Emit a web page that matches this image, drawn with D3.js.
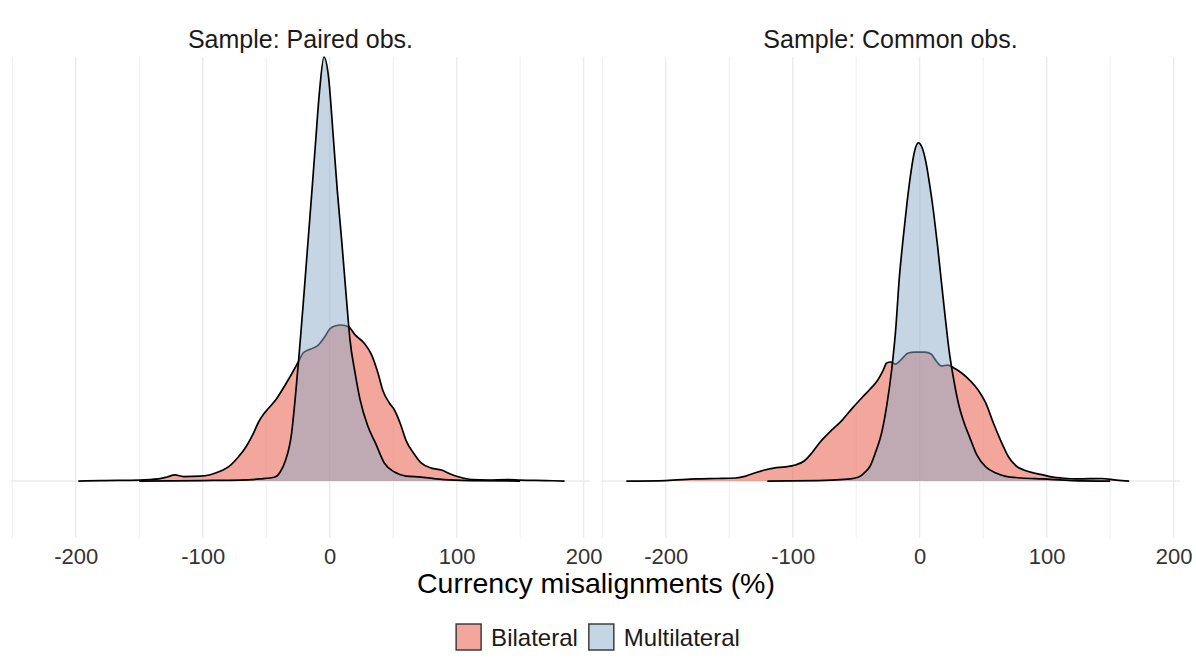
<!DOCTYPE html>
<html>
<head>
<meta charset="utf-8">
<script src="https://cdn.jsdelivr.net/npm/d3@7"></script>
<style>
  html, body { margin: 0; padding: 0; background: #ffffff; }
  svg { display: block; font-family: "Liberation Sans", Arial, Helvetica, sans-serif; }
</style>
</head>
<body>
<svg id="chart" width="1196" height="662"></svg>
<script>
// Facets and series
const panelTitles = ["Sample: Paired obs.", "Sample: Common obs."];
const seriesNames = ["Bilateral", "Multilateral"];
const seriesColors = ["#E8503A", "#8CABC8"];

// x tick labels (misalignment, %) and minor grid positions
const majorTicks = [-200, -100, 0, 100, 200];
const minorTicks = [-250, -150, -50, 50, 150];

// Kernel density estimates (density x 1000) — Paired obs., Bilateral
const pairedBilateralX = [-198, -180, -150, -135, -128, -122, -115, -102, -95, -90,
  -84, -78, -72, -66, -60, -56, -52, -48, -42, -36,
  -30, -24, -21, -15, -9, -4, 0, 4, 9, 15,
  20, 27, 33, 38, 42, 47, 51, 56, 60, 66,
  72, 80, 88, 95, 102, 112, 125, 140, 150, 170, 185];
const pairedBilateralD = [0, 0.03, 0.06, 0.13, 0.25, 0.38, 0.28, 0.31, 0.38, 0.5,
  0.69, 1.0, 1.5, 2.13, 3.0, 3.69, 4.19, 4.56, 5.13, 5.88,
  6.69, 7.56, 8.0, 8.25, 8.5, 9.0, 9.5, 9.69, 9.75, 9.63,
  9.13, 8.63, 7.88, 6.75, 5.63, 4.88, 4.44, 3.5, 2.56, 1.75,
  1.13, 0.81, 0.69, 0.44, 0.25, 0.09, 0.06, 0.09, 0.06, 0.03, 0];

// Paired obs., Multilateral
const pairedMultilateralX = [-150, -100, -70, -55, -43, -39, -35, -30, -27, -24,
  -21, -17, -14, -11, -8, -4.5, -1, 3, 6, 9.4,
  13, 16, 20, 24, 30, 36, 43, 51, 60, 72,
  90, 110, 150];
const pairedMultilateralD = [0, 0.03, 0.06, 0.13, 0.25, 0.56, 1.25, 3.0, 5.31, 8.0,
  10.94, 15.06, 18.13, 21.31, 24.38, 26.5, 25.31, 21.31, 18.13, 15.06,
  11.56, 8.81, 6.75, 5.06, 3.44, 2.38, 1.13, 0.56, 0.31, 0.25,
  0.09, 0.03, 0];

// Common obs., Bilateral
const commonBilateralX = [-231, -200, -176, -160, -145, -137, -130, -122, -115, -106,
  -98, -91, -85, -79, -70, -61, -53, -45, -39, -33,
  -29, -26, -23, -19, -15, -9, -4, 4, 9, 13,
  17, 22, 27, 33, 40, 46, 52, 58, 64, 70,
  76, 82, 90, 97, 105, 112, 125, 143, 155, 165];
const commonBilateralD = [0, 0.03, 0.13, 0.16, 0.19, 0.31, 0.5, 0.69, 0.81, 0.88,
  1.0, 1.25, 1.75, 2.38, 3.13, 3.81, 4.56, 5.25, 5.75, 6.31,
  6.88, 7.38, 7.44, 7.31, 7.56, 8.0, 8.06, 8.06, 7.94, 7.5,
  7.19, 7.25, 7.06, 6.75, 6.25, 5.69, 4.88, 3.63, 2.5, 1.5,
  0.94, 0.69, 0.5, 0.38, 0.25, 0.19, 0.13, 0.16, 0.06, 0];

// Common obs., Multilateral
const commonMultilateralX = [-120, -80, -69, -55, -48, -43, -39, -35, -30, -26,
  -22, -19, -16, -13, -10, -7, -4, -1, 2, 5,
  8, 11, 14, 17, 20, 23, 27, 31, 35, 39,
  45, 52, 60, 67, 80, 97, 120, 150];
const commonMultilateralD = [0, 0.03, 0.06, 0.13, 0.25, 0.56, 0.94, 1.75, 3.0, 4.69,
  7.0, 9.38, 12.75, 15.19, 17.38, 19.25, 20.63, 21.13, 20.81, 19.88,
  18.44, 16.75, 14.75, 12.5, 10.31, 8.25, 6.25, 4.69, 3.63, 2.81,
  1.63, 0.88, 0.5, 0.31, 0.19, 0.13, 0.03, 0];

const panelData = [
  [d3.zip(pairedBilateralX, pairedBilateralD), d3.zip(pairedMultilateralX, pairedMultilateralD)],
  [d3.zip(commonBilateralX, commonBilateralD), d3.zip(commonMultilateralX, commonMultilateralD)]
];

// Layout
const panelLeft = [11, 601];
const panelWidth = 579;
const panelTop = 57;
const panelBottom = 538;
const fillOpacity = 0.5;

const svg = d3.select("#chart");

const x = d3.scaleLinear().domain([-251, 205]).range([0, panelWidth]);
const y = d3.scaleLinear().domain([-3.56, 26.5]).range([panelBottom, panelTop]);

const area = d3.area()
  .x(d => x(d[0]))
  .y0(y(0))
  .y1(d => y(d[1]))
  .curve(d3.curveMonotoneX);
const line = d3.line()
  .x(d => x(d[0]))
  .y(d => y(d[1]))
  .curve(d3.curveMonotoneX);

panelTitles.forEach((title, i) => {
  const g = svg.append("g").attr("transform", `translate(${panelLeft[i]},0)`);

  // grid
  g.selectAll("line.minor").data(minorTicks).join("line")
    .attr("class", "minor")
    .attr("x1", d => x(d)).attr("x2", d => x(d))
    .attr("y1", panelTop).attr("y2", panelBottom)
    .attr("stroke", "#EFEFEF").attr("stroke-width", 1);
  g.selectAll("line.major").data(majorTicks).join("line")
    .attr("class", "major")
    .attr("x1", d => x(d)).attr("x2", d => x(d))
    .attr("y1", panelTop).attr("y2", panelBottom)
    .attr("stroke", "#EBEBEB").attr("stroke-width", 1.4);
  g.append("line")
    .attr("x1", 0).attr("x2", panelWidth)
    .attr("y1", y(0)).attr("y2", y(0))
    .attr("stroke", "#EBEBEB").attr("stroke-width", 1.4);

  // densities: bilateral first, multilateral over it
  panelData[i].forEach((pts, s) => {
    g.append("path")
      .datum(pts)
      .attr("d", area)
      .attr("fill", seriesColors[s])
      .attr("fill-opacity", fillOpacity);
    g.append("path")
      .datum(pts)
      .attr("d", line)
      .attr("fill", "none")
      .attr("stroke", "#000")
      .attr("stroke-width", 1.7)
      .attr("stroke-linejoin", "round");
  });

  // x axis labels
  const ax = g.append("g")
    .attr("transform", `translate(0,${panelBottom})`)
    .call(d3.axisBottom(x).tickValues(majorTicks).tickSize(0).tickPadding(10).tickFormat(d => String(d)));
  ax.select(".domain").remove();
  ax.selectAll("text")
    .attr("font-size", 22)
    .attr("font-family", "Liberation Sans, Arial, sans-serif")
    .attr("fill", "#333333");

  // strip title
  g.append("text")
    .attr("x", panelWidth / 2)
    .attr("y", 48)
    .attr("text-anchor", "middle")
    .attr("font-size", 25)
    .attr("fill", "#1A1A1A")
    .text(title);
});

// x axis title
svg.append("text")
  .attr("x", 596)
  .attr("y", 593)
  .attr("text-anchor", "middle")
  .attr("font-size", 28.5)
  .attr("fill", "#000")
  .text("Currency misalignments (%)");

// legend
const legend = svg.append("g");
const keySize = 26;
let cursor = 0;
seriesNames.forEach((name, s) => {
  const item = legend.append("g").attr("transform", `translate(${cursor},0)`);
  item.append("rect")
    .attr("x", 0).attr("y", 0)
    .attr("width", keySize - 1).attr("height", keySize)
    .attr("fill", seriesColors[s])
    .attr("fill-opacity", fillOpacity)
    .attr("stroke", "#333")
    .attr("stroke-width", 1.4);
  const t = item.append("text")
    .attr("x", keySize + 9)
    .attr("y", keySize / 2 + 8.5)
    .attr("font-size", 24)
    .attr("fill", "#1A1A1A")
    .text(name);
  cursor += keySize + 9 + t.node().getComputedTextLength() + 11;
});
const legendWidth = cursor - 11;
legend.attr("transform", `translate(${598 - legendWidth / 2},${624})`);
</script>
</body>
</html>
